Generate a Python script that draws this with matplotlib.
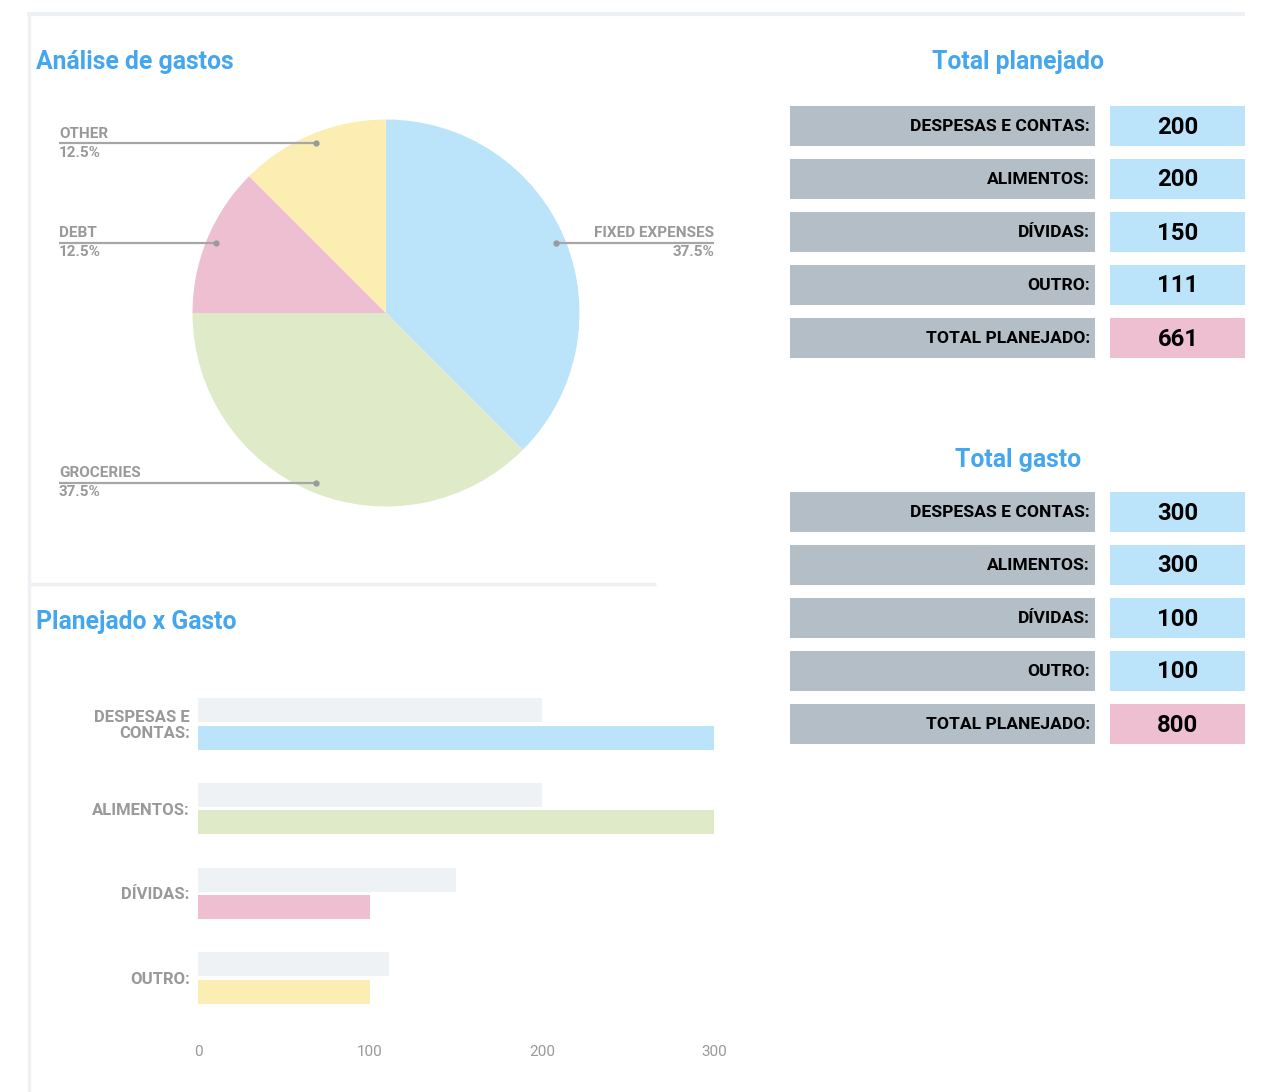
import numpy as np
import matplotlib
matplotlib.use("Agg")
import matplotlib.pyplot as plt
from matplotlib.patches import Rectangle

plt.rcParams['font.family'] = ['Roboto', 'DejaVu Sans']

# ---- data ----
categories = ["DESPESAS E CONTAS:", "ALIMENTOS:", "DÍVIDAS:", "OUTRO:"]
bar_labels = ["DESPESAS E\nCONTAS:", "ALIMENTOS:", "DÍVIDAS:", "OUTRO:"]
planned = [200, 200, 150, 111]
spent = [300, 300, 100, 100]
pie_labels = ["FIXED EXPENSES", "GROCERIES", "DEBT", "OTHER"]
total_label = "TOTAL PLANEJADO:"
xticks = [0, 100, 200, 300]

colors = ["#BBE3FA", "#DFEBC8", "#EEBFD1", "#FCEDB3"]
planned_color = "#EFF2F5"
label_box = "#B3BEC7"
total_box = "#EEBFD1"
title_color = "#45A6F0"
gray_text = "#999999"
frame = "#EEF1F4"

W, H = 1282, 1092
fig = plt.figure(figsize=(W / 100, H / 100), dpi=100)

def fx(px):
    return px / W

def fy(py):
    return 1 - py / H

# background overlay axes in pixel coords
bg = fig.add_axes([0, 0, 1, 1])
bg.set_xlim(0, W)
bg.set_ylim(H, 0)
bg.axis('off')

# frame lines
bg.plot([27, 1245], [14, 14], color=frame, lw=3, solid_capstyle='butt')
bg.plot([28.5, 28.5], [13, H], color=frame, lw=2.5, solid_capstyle='butt')
bg.plot([30, 656], [583.5, 583.5], color=frame, lw=2.5, solid_capstyle='butt')

# titles
tkw = dict(color=title_color, fontsize=17.8, fontweight='bold', va='center')
bg.text(36, 62, "Análise de gastos", ha='left', **tkw)
bg.text(36, 622, "Planejado x Gasto", ha='left', **tkw)
bg.text(1018, 62, "Total planejado", ha='center', **tkw)
bg.text(1018, 460, "Total gasto", ha='center', **tkw)

# tables
def draw_table(top, values):
    labels = categories + [total_label]
    vals = list(values) + [sum(values)]
    for i, (lab, v) in enumerate(zip(labels, vals)):
        y0 = top + i * 53
        bg.add_patch(Rectangle((790, y0), 305, 40, color=label_box, lw=0))
        vc = total_box if i == len(labels) - 1 else colors[0]
        bg.add_patch(Rectangle((1110, y0), 135, 40, color=vc, lw=0))
        bg.text(1090, y0 + 20.5, lab, fontsize=12.6, fontweight='bold',
                ha='right', va='center', color='black')
        bg.text(1178, y0 + 21, str(v), fontsize=17.2, fontweight='bold',
                ha='center', va='center', color='black')

draw_table(106, planned)
draw_table(492, spent)

# ---- pie ----
cx, cy, R = 386, 313, 193.5
half = 200
pie_ax = fig.add_axes([fx(cx - half), fy(cy + half), fx(2 * half), (2 * half) / H])
pie_ax.set_xlim(-half, half)
pie_ax.set_ylim(-half, half)
pie_ax.set_aspect('equal')
pie_ax.axis('off')
wedges, _ = pie_ax.pie(spent, colors=colors, startangle=90, counterclock=False,
                       radius=R, center=(0, 0), frame=False,
                       wedgeprops=dict(linewidth=0))
pie_ax.set_xlim(-half, half)
pie_ax.set_ylim(-half, half)

total = sum(spent)
for w, lab, v in zip(wedges, pie_labels, spent):
    ang = np.deg2rad((w.theta1 + w.theta2) / 2)
    px, py = 0.95 * R * np.cos(ang), 0.95 * R * np.sin(ang)
    pct = f"{100 * v / total:.1f}%"
    if px >= 0:
        xend = 714 - cx
        ha = 'right'
    else:
        xend = 59 - cx
        ha = 'left'
    pie_ax.plot([px, xend], [py, py], color="#A6A6A6", lw=1.6, clip_on=False,
                solid_capstyle='butt')
    pie_ax.plot([px], [py], 'o', color="#9A9A9A", ms=3.5, clip_on=False)
    pie_ax.text(xend, py + 2.5, lab, fontsize=11, fontweight='bold', color=gray_text,
                ha=ha, va='bottom', clip_on=False)
    pie_ax.text(xend, py - 2.5, pct, fontsize=11, fontweight='bold', color=gray_text,
                ha=ha, va='top', clip_on=False)

# ---- bar chart ----
x0p, x1p = 198, 714
ytop, ybot = 682, 1020
unit = 84.67
bar_ax = fig.add_axes([fx(x0p), fy(ybot), fx(x1p - x0p), (ybot - ytop) / H])
idx = np.arange(len(categories))
bh = 24 / unit
bar_ax.barh(idx - 13.75 / unit, planned, height=bh, color=planned_color, lw=0)
bar_ax.barh(idx + 13.75 / unit, spent, height=bh, color=colors, lw=0)
bar_ax.set_xlim(0, 300)
bar_ax.set_ylim((ybot - 724) / unit, (ytop - 724) / unit)
bar_ax.set_yticks(idx)
bar_ax.set_yticklabels(bar_labels, fontsize=12, fontweight='bold', color=gray_text,
                       linespacing=1.0)
bar_ax.set_xticks(xticks)
bar_ax.set_xticklabels([str(t) for t in xticks], fontsize=11, color=gray_text)
bar_ax.tick_params(axis='x', length=0, pad=18)
bar_ax.tick_params(axis='y', length=0, pad=6)
for s in bar_ax.spines.values():
    s.set_visible(False)
bar_ax.set_facecolor('none')

fig.savefig("out.png", dpi=100, facecolor='white')
